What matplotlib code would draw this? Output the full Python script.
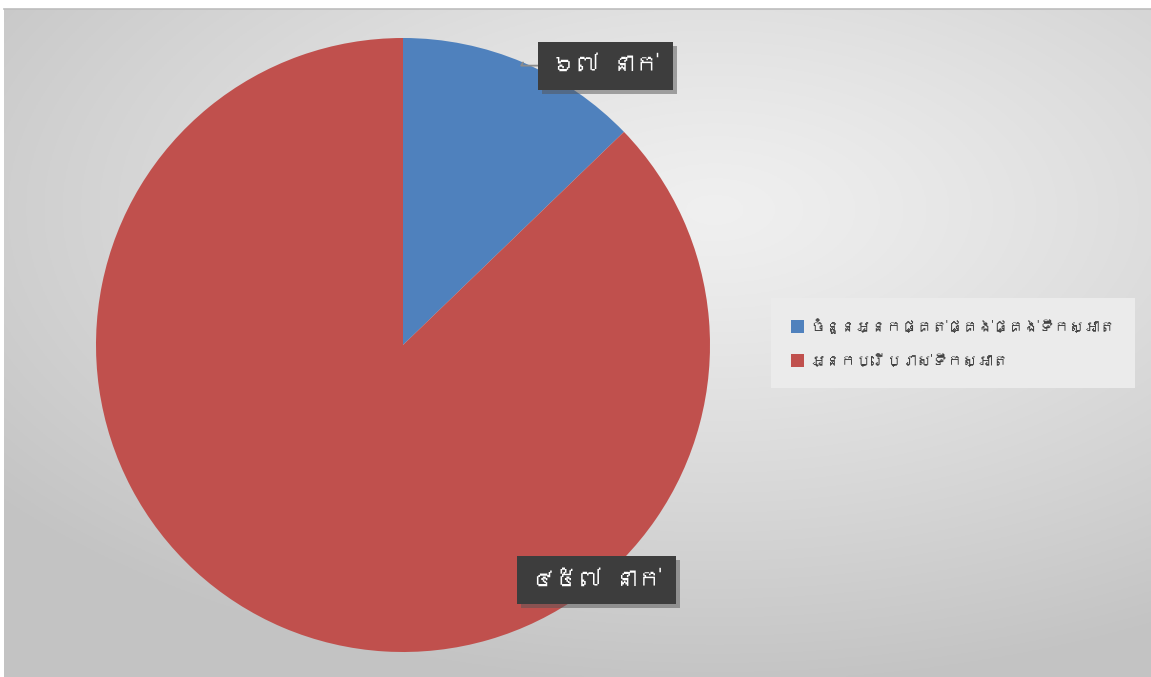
import numpy as np
import matplotlib.pyplot as plt
from matplotlib import font_manager
import matplotlib.patheffects as pe

# ទិន្នន័យ
categories = ["ចំនួនអ្នកផ្គត់ផ្គង់ផ្គង់ទឹកស្អាត", "អ្នកប្រើប្រាស់ទឹកស្អាត"]
values = [67, 457]
value_labels = ["៦៧ នាក់", "៤៥៧ នាក់"]
colors = ["#4f81bd", "#c0504d"]


def find_khmer_font():
    # look for any installed font that has Khmer glyphs
    for f in font_manager.fontManager.ttflist:
        try:
            cmap = font_manager.get_font(f.fname).get_charmap()
        except Exception:
            continue
        if 0x1780 in cmap and 0x17E0 in cmap:
            return f.name
    return None


khmer = find_khmer_font()
fams = ([khmer] if khmer else []) + ["DejaVu Sans"]
plt.rcParams["font.family"] = fams

W, H = 1151, 677
fig = plt.figure(figsize=(W / 100, H / 100), dpi=100)
fig.patch.set_facecolor("white")

# gradient background
bg = fig.add_axes([4 / W, 0, 1 - 4 / W, (H - 9) / H])
bg.axis("off")
yy, xx = np.mgrid[0:1:300j, 0:1:500j]
d = np.sqrt(((xx - 0.62) / 1.0) ** 2 + ((yy - 0.3) / 0.9) ** 2)
d = np.clip(d / 0.8, 0, 1)
shade = 0.94 - 0.175 * d ** 1.2
img = np.dstack([shade, shade, shade])
bg.imshow(img, extent=[0, 1, 0, 1], origin="upper", aspect="auto")
bg.set_xlim(0, 1)
bg.set_ylim(0, 1)
fig.add_artist(plt.Line2D([4 / W, 1], [(H - 8.5) / H] * 2, color="#bdbdbd", lw=1.2))

# pie
cx, cy, r = 403, 345, 307
ax = fig.add_axes([(cx - r) / W, (H - cy - r) / H, 2 * r / W, 2 * r / H])
ax.set_facecolor("none")
wedges, _ = ax.pie(values, colors=colors, startangle=90, counterclock=False,
                   radius=1, wedgeprops=dict(linewidth=0))
ax.set_xlim(-1, 1)
ax.set_ylim(-1, 1)
ax.axis("off")

label_pos = [(0.66, 0.91), (0.63, -0.765)]
for i, (w, lab, pos) in enumerate(zip(wedges, value_labels, label_pos)):
    mid = np.deg2rad((w.theta1 + w.theta2) / 2)
    edge = (np.cos(mid), np.sin(mid))
    arrow = None
    if i == 0:
        arrow = dict(arrowstyle="-", color="#8c8c8c", lw=1.3, shrinkA=0, shrinkB=0,
                     connectionstyle="angle,angleA=0,angleB=60,rad=0")
    t = ax.annotate(lab, xy=edge if i == 0 else pos, xytext=pos,
                    ha="center", va="center", fontsize=17, fontweight="bold",
                    color="white",
                    bbox=dict(boxstyle="square,pad=0.6", fc="#3d3d3d", ec="none"),
                    arrowprops=arrow, annotation_clip=False, zorder=5)
    t.get_bbox_patch().set_path_effects(
        [pe.SimplePatchShadow(offset=(3, -3), shadow_rgbFace="#555555", alpha=0.5), pe.Normal()])

# legend
handles = [plt.Rectangle((0, 0), 1, 1, fc=c, ec="none") for c in colors]
leg = fig.legend(handles, categories, loc="center right",
                 bbox_to_anchor=(1143 / W, (H - 343) / H),
                 fontsize=11, frameon=True, fancybox=False,
                 handlelength=0.9, handleheight=0.9, handletextpad=0.4,
                 borderpad=1.3, labelspacing=1.3, labelcolor="#404040")
leg.get_frame().set_facecolor("#ebebeb")
leg.get_frame().set_edgecolor("none")
leg.get_frame().set_alpha(1)

fig.savefig("out.png", dpi=100)
